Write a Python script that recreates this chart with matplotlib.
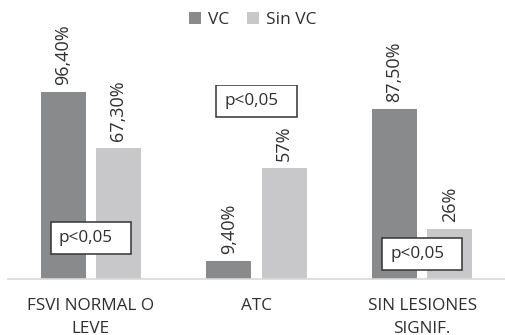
import matplotlib.pyplot as plt
from matplotlib.patches import Rectangle
import numpy as np

plt.rcParams['font.family'] = 'Open Sans'

# Data
categories = ['FSVI NORMAL O\nLEVE', 'ATC', 'SIN LESIONES\nSIGNIF.']
vc = [96.4, 9.4, 87.5]
sin_vc = [67.3, 57.0, 26.0]
vc_labels = ['96,40%', '9,40%', '87,50%']
sin_vc_labels = ['67,30%', '57%', '26%']

# p-value boxes: (x center, y center) in data units
p_text = 'p<0,05'
p_pos = [(0.0, 21.1), (1.0, 92.0), (2.0, 12.9)]

c_vc = '#898a8c'
c_sin = '#c8c8ca'
txt_color = '#2e2e2e'

fig = plt.figure(figsize=(5.05, 3.35), dpi=100)
ax = fig.add_axes([8 / 505, 56 / 335, 497 / 505, 194 / 335])

x = np.arange(len(categories))
w = 0.27
off = 0.167
b1 = ax.bar(x - off, vc, w, color=c_vc, label='VC')
b2 = ax.bar(x + off, sin_vc, w, color=c_sin, label='Sin VC')

# Value labels above bars
for bars, labels in [(b1, vc_labels), (b2, sin_vc_labels)]:
    for rect, lab in zip(bars, labels):
        ax.annotate(lab, (rect.get_x() + rect.get_width() / 2, rect.get_height()),
                    xytext=(0, 5), textcoords='offset points', rotation=90,
                    ha='center', va='bottom', fontsize=13, color=txt_color)

# p<0,05 boxes
bw, bh = 0.485, 16.5
for cx, cy in p_pos:
    ax.add_patch(Rectangle((cx - bw / 2, cy - bh / 2), bw, bh, facecolor='white',
                           edgecolor='#333333', linewidth=1.1, zorder=3))
    ax.text(cx - bw / 2 + 0.05, cy, p_text, ha='left', va='center',
            fontsize=12.3, color=txt_color, zorder=4)

ax.set_xlim(-0.5, 2.5)
ax.set_ylim(0, 100)
ax.set_xticks(x)
ax.set_xticklabels([])
ax.tick_params(axis='x', length=0)
# category labels: each line drawn centred on its own
for xi, cat in zip(x, categories):
    for j, line in enumerate(cat.split('\n')):
        ax.annotate(line, (xi, 0), xycoords=('data', 'axes fraction'),
                    xytext=(0, -14 - 16.5 * j), textcoords='offset points',
                    ha='center', va='top', fontsize=12.3, color=txt_color,
                    annotation_clip=False)
ax.set_yticks([])
for s in ['top', 'right', 'left']:
    ax.spines[s].set_visible(False)
ax.spines['bottom'].set_color('#d9d9d9')
ax.spines['bottom'].set_linewidth(1.2)

fig.legend(loc='upper center', bbox_to_anchor=(0.5, 1.01), ncol=2, frameon=False,
           fontsize=12.5, handlelength=0.7, handleheight=0.7, handletextpad=0.4,
           columnspacing=1.0, labelcolor=txt_color)

fig.savefig('out.png', dpi=100)
